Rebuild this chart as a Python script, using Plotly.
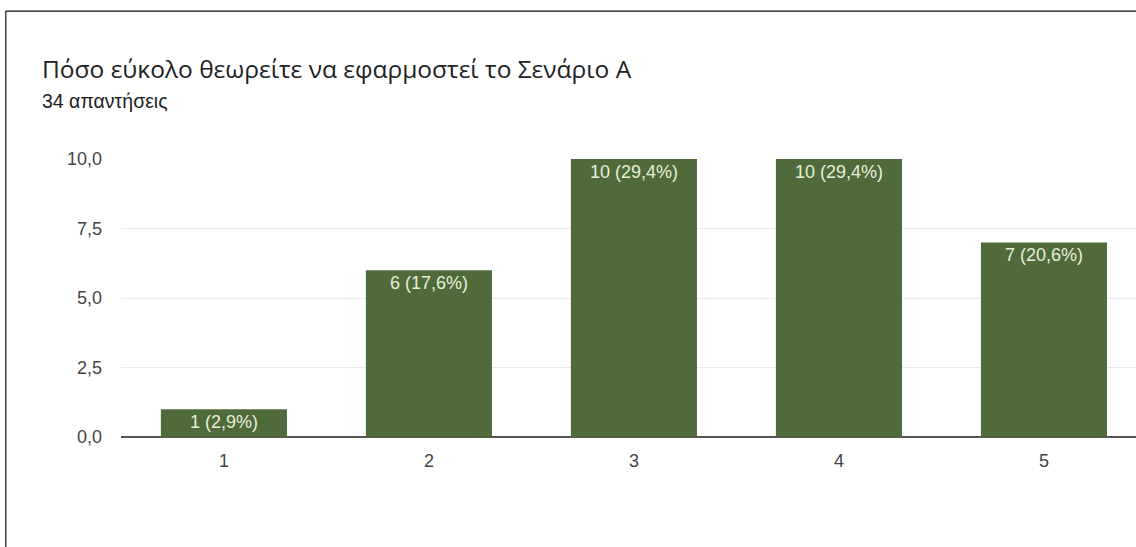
import plotly.graph_objects as go

# Responses per rating (scale 1-5)
categories = ["1", "2", "3", "4", "5"]
counts = [1, 6, 10, 10, 7]
total_responses = 34
y_ticks = [0, 2.5, 5, 7.5, 10]

percentages = [c / total_responses * 100 for c in counts]
labels = [f"{c} ({p:.1f}%)".replace(".", ",") for c, p in zip(counts, percentages)]

x_pos = [int(c) for c in categories]

fig = go.Figure(
    go.Bar(
        x=x_pos,
        y=counts,
        width=0.615,
        marker=dict(color="#4f6b3b", line=dict(width=0)),
        text=labels,
        textposition="inside",
        insidetextanchor="end",
        textangle=0,
        constraintext="none",
        textfont=dict(family="Liberation Sans, Arial, sans-serif", size=18, color="#e6efdc"),
        hoverinfo="skip",
    )
)

# Outer frame on the top and left edges
frame = dict(color="#111111", width=1.2)
fig.add_shape(type="line", xref="paper", yref="paper",
              x0=-0.1135, x1=1.0, y0=1.532, y1=1.532, line=frame)
fig.add_shape(type="line", xref="paper", yref="paper",
              x0=-0.1135, x1=-0.1135, y0=1.532, y1=-0.40, line=frame)

fig.add_annotation(
    text="Πόσο εύκολο θεωρείτε να εφαρμοστεί το Σενάριο A",
    xref="paper", yref="paper", x=-0.0796, y=1.325,
    xanchor="left", yanchor="middle", showarrow=False,
    font=dict(family="Open Sans, sans-serif", size=24.5, color="#202124"),
)
fig.add_annotation(
    text="34 απαντήσεις",
    xref="paper", yref="paper", x=-0.0796, y=1.21,
    xanchor="left", yanchor="middle", showarrow=False,
    font=dict(family="Liberation Sans, Arial, sans-serif", size=19.5, color="#202124"),
)

fig.update_layout(
    width=1136,
    height=547,
    margin=dict(l=121, r=0, t=159, b=110),
    paper_bgcolor="white",
    plot_bgcolor="white",
    separators=",.",
    showlegend=False,
    xaxis=dict(
        range=[0.498, 5.449],
        tickvals=x_pos,
        ticktext=categories,
        showgrid=False,
        zeroline=False,
        showline=False,
        ticks="",
        ticklabelstandoff=11,
        tickfont=dict(family="Liberation Sans, Arial, sans-serif", size=18, color="#444444"),
        fixedrange=True,
    ),
    yaxis=dict(
        range=[0, 10],
        tickvals=y_ticks,
        tickformat=".1f",
        showgrid=True,
        gridcolor="#ebebeb",
        gridwidth=1,
        zeroline=True,
        zerolinecolor="#555555",
        zerolinewidth=2,
        showline=False,
        ticks="",
        ticklabelstandoff=18,
        tickfont=dict(family="Liberation Sans, Arial, sans-serif", size=18, color="#444444"),
        fixedrange=True,
    ),
)

fig.write_html("out.html")
